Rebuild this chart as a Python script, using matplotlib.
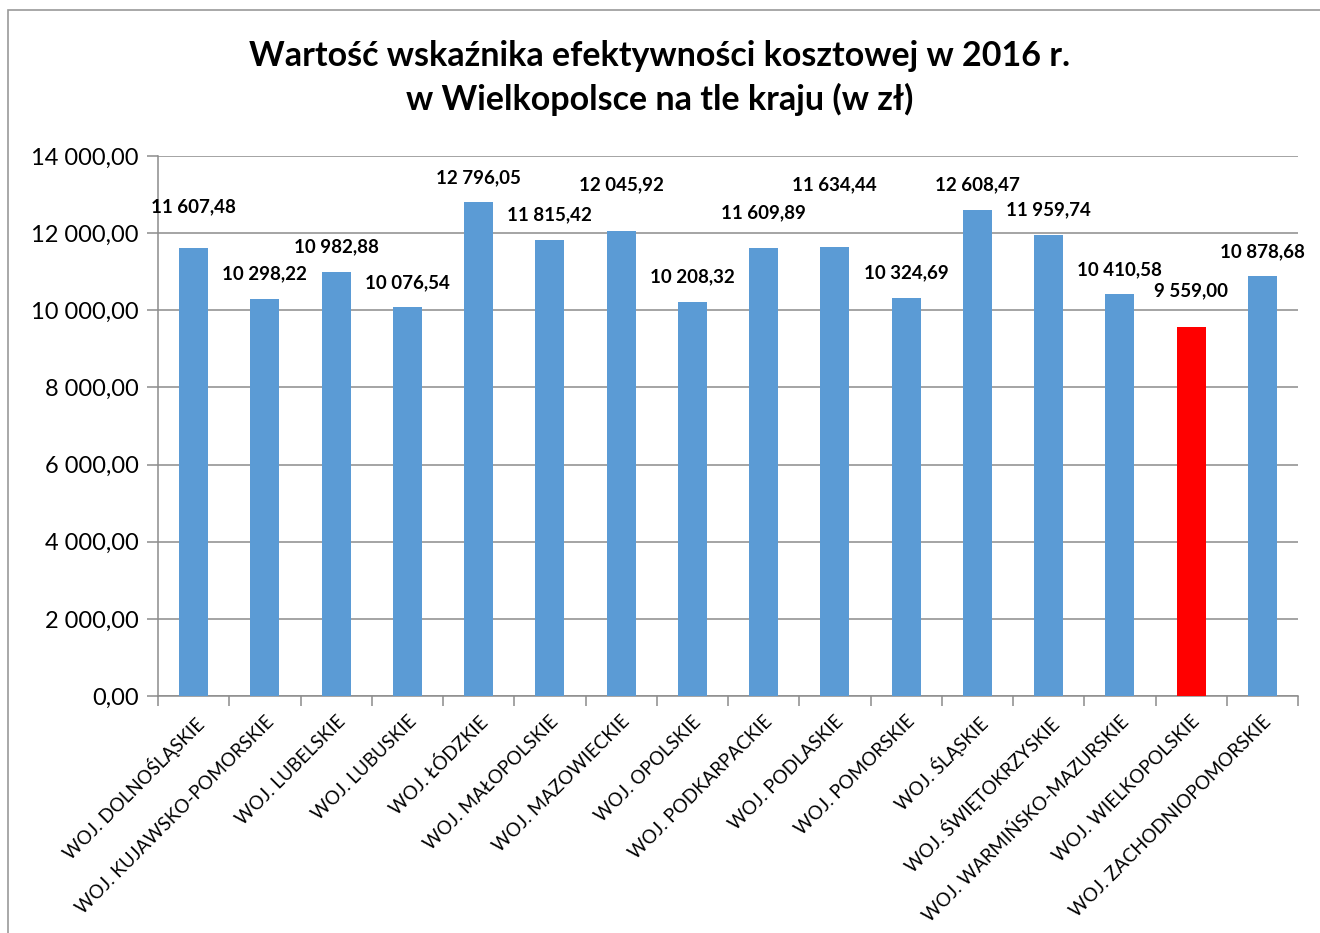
import matplotlib
matplotlib.use("Agg")
import matplotlib.pyplot as plt
from matplotlib.patches import Rectangle
import numpy as np

plt.rcParams['font.family'] = ['Lato', 'DejaVu Sans']

regions = ["WOJ. DOLNOŚLĄSKIE", "WOJ. KUJAWSKO-POMORSKIE", "WOJ. LUBELSKIE",
           "WOJ. LUBUSKIE", "WOJ. ŁÓDZKIE", "WOJ. MAŁOPOLSKIE", "WOJ. MAZOWIECKIE",
           "WOJ. OPOLSKIE", "WOJ. PODKARPACKIE", "WOJ. PODLASKIE", "WOJ. POMORSKIE",
           "WOJ. ŚLĄSKIE", "WOJ. ŚWIĘTOKRZYSKIE", "WOJ. WARMIŃSKO-MAZURSKIE",
           "WOJ. WIELKOPOLSKIE", "WOJ. ZACHODNIOPOMORSKIE"]
values = [11607.48, 10298.22, 10982.88, 10076.54, 12796.05, 11815.42, 12045.92,
          10208.32, 11609.89, 11634.44, 10324.69, 12608.47, 11959.74, 10410.58,
          9559.00, 10878.68]
# how far above each bar its label sits (labels were moved by hand in the original)
label_lift = [1070, 645, 660, 632, 636, 658, 1205, 657, 914, 1617, 644, 643, 642, 635, 943, 634]
highlight = "WOJ. WIELKOPOLSKIE"

yticks = np.arange(0, 14001, 2000)


def pl_num(v):
    s = f"{v:,.2f}"
    return s.replace(",", " ").replace(".", ",")


fig = plt.figure(figsize=(13.2, 9.33), dpi=100)
fig.patches.append(Rectangle((8 / 1320, -0.1), 1.2, 1 - 10 / 933 + 0.1,
                             transform=fig.transFigure, fill=False,
                             edgecolor="#9a9a9a", linewidth=1.2))
ax = fig.add_axes([158 / 1320, 237 / 933, 1140 / 1320, 540 / 933])

x = np.arange(len(regions))
colors = ["#FF0000" if r == highlight else "#5B9BD5" for r in regions]
ax.bar(x, values, width=0.41, color=colors, zorder=3)

for xi, v, lift in zip(x, values, label_lift):
    ax.text(xi, v + lift, pl_num(v), ha="center", va="center",
            fontsize=13.5, fontweight="bold", color="black", zorder=4)

ax.set_xlim(-0.5, len(regions) - 0.5)
ax.set_ylim(0, 14000)
ax.set_yticks(yticks)
ax.set_yticklabels([pl_num(t) for t in yticks], fontsize=17)
ax.yaxis.grid(True, color="#8c8c8c", linewidth=1.1, zorder=0)
ax.set_xticks(np.arange(-0.5, len(regions), 1.0), minor=True)
ax.set_xticks(x)
ax.set_xticklabels(regions, rotation=45, ha="right", rotation_mode="anchor", fontsize=13.5)
ax.tick_params(axis="x", which="major", length=0, pad=12)
ax.tick_params(axis="x", which="minor", length=7, color="#8c8c8c", width=1.1)
ax.tick_params(axis="y", length=8, color="#8c8c8c", width=1.1, pad=6)

for side in ["top", "right"]:
    ax.spines[side].set_visible(False)
for side in ["left", "bottom"]:
    ax.spines[side].set_color("#8c8c8c")
    ax.spines[side].set_linewidth(1.1)

fig.text(0.5, 1 - 78 / 933, "Wartość wskaźnika efektywności kosztowej w 2016 r.\nw Wielkopolsce na tle kraju (w zł)",
         ha="center", va="center", fontsize=24.5, fontweight="bold", linespacing=1.4)

fig.savefig("out.png", dpi=100)
